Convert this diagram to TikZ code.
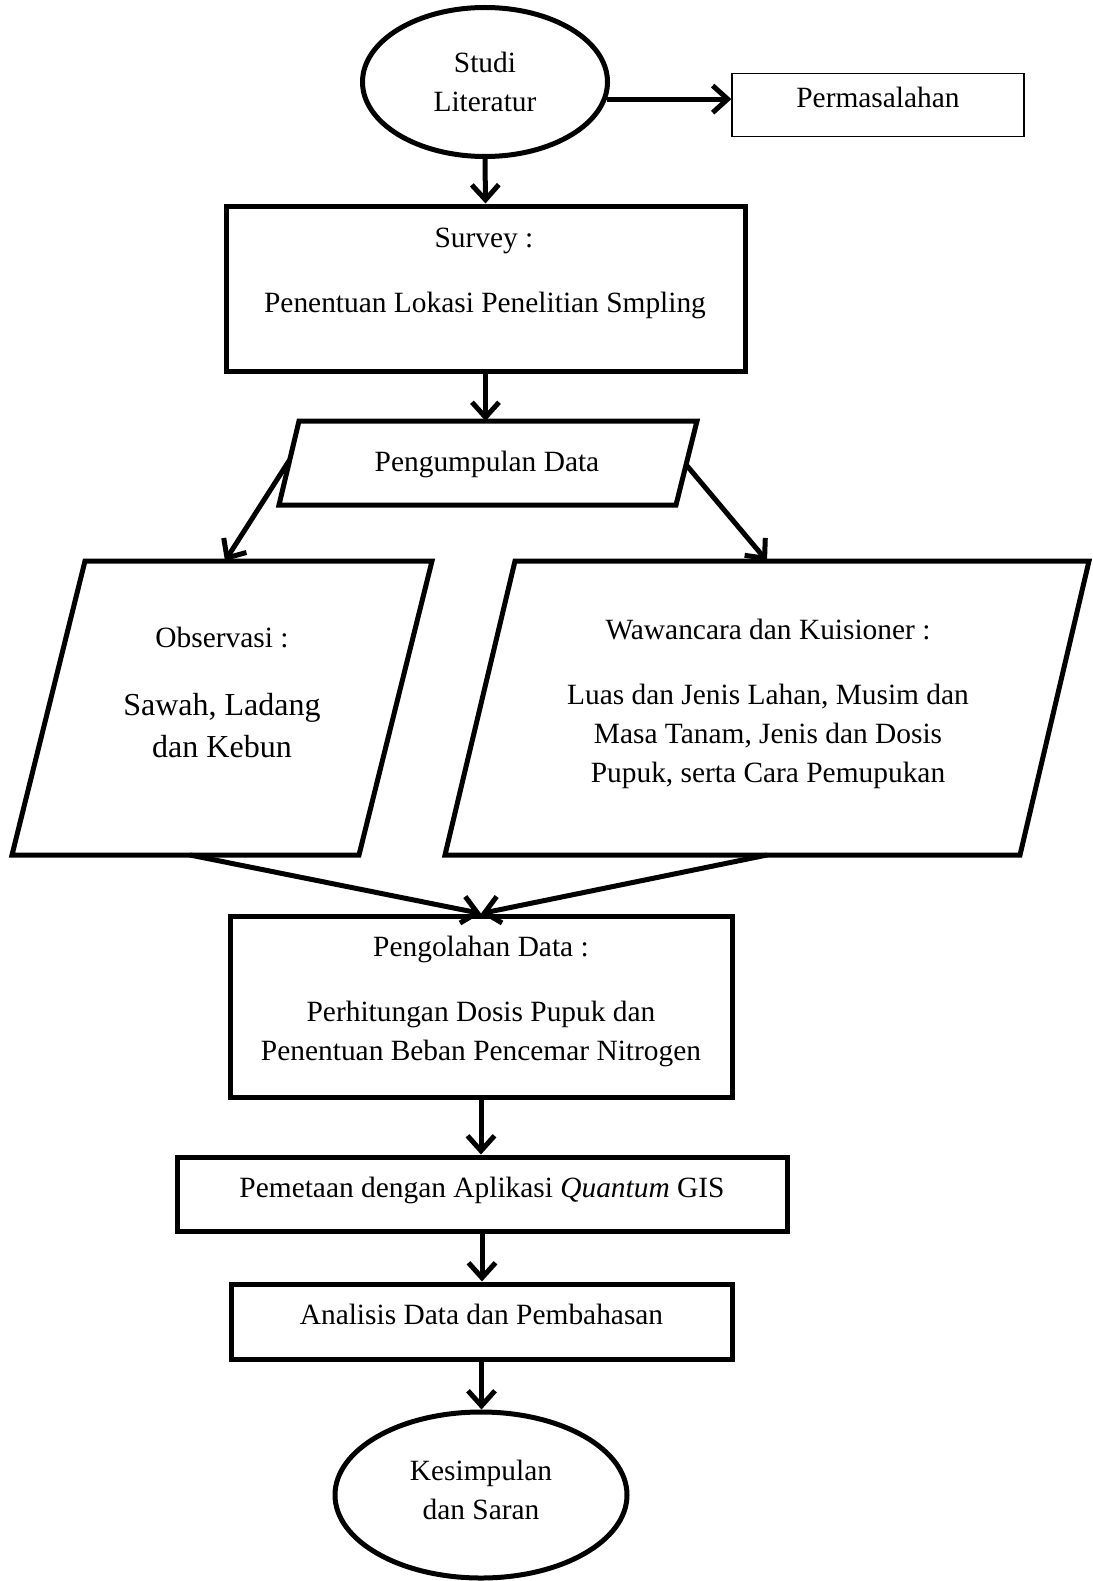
\documentclass[tikz,border=0pt]{standalone}
\usepackage{fontspec}
\setmainfont{Liberation Serif}
\usepackage{tikz}
\usetikzlibrary{arrows.meta,shapes.geometric,calc}

\tikzset{
  proc/.style={draw, line width=5pt, line join=miter},
  term/.style={draw, ellipse, line width=5pt, align=center},
  flow/.style={line width=5pt, -{Straight Barb[length=15pt,width=27pt]}},
  lift/.style={text height=20pt, text depth=14pt},
  txt/.style={align=center, inner sep=0pt},
  bigtxt/.style={txt, font=\fontsize{32}{42}\selectfont},
}

\begin{document}
\begin{tikzpicture}[x=1pt, y=-1pt,
    every node/.append style={font=\fontsize{29.4}{39}\selectfont}]
        \useasboundingbox (0,0) rectangle (1092,1581);

        % start and problem statement
        \node[term, minimum width=245pt, minimum height=149pt] (lit) at (485,82)
          {Studi\\Literatur};
        \node[draw, lift, line width=1.2pt, minimum width=292pt, minimum height=63pt]
          (perm) at (878,105) {Permasalahan};
        \draw[flow] (lit.-8) -- (lit.-8 -| perm.west);

        % survey
        \node[proc, minimum width=519pt, minimum height=165pt] (survey) at (485.5,288.5) {};
        \node[txt] (surveyhead) at (484,241) {Survey :};
        \node[txt] (surveybody) at (485,305) {Penentuan Lokasi Penelitian Smpling};
        \draw[flow] (lit.south) -- (survey.north);

        % data collection
        \coordinate (pd1) at (299,421);
        \coordinate (pd2) at (697,421);
        \coordinate (pd3) at (676,505);
        \coordinate (pd4) at (279,505);
        \draw[proc] (pd1) -- (pd2) -- (pd3) -- (pd4) -- cycle;
        \node[txt] (pdtext) at (487,464) {Pengumpulan Data};
        \draw[flow] (survey.south) -- (survey.south |- pd1);

        % observation
        \coordinate (ob1) at (85,561);
        \coordinate (ob2) at (432,561);
        \coordinate (ob3) at (359,855);
        \coordinate (ob4) at (12,855);
        \draw[proc] (ob1) -- (ob2) -- (ob3) -- (ob4) -- cycle;
        \node[txt] (obhead) at (222,638) {Observasi :};
        \node[bigtxt] (obbody) at (222,726) {Sawah, Ladang\\dan Kebun};

        % interview and questionnaire
        \coordinate (ww1) at (515,561);
        \coordinate (ww2) at (1089,561);
        \coordinate (ww3) at (1020,855);
        \coordinate (ww4) at (445,855);
        \draw[proc] (ww1) -- (ww2) -- (ww3) -- (ww4) -- cycle;
        \node[txt] (wwhead) at (768,630) {Wawancara dan Kuisioner :};
        \node[txt] (wwbody) at (768,736)
          {Luas dan Jenis Lahan, Musim dan\\Masa Tanam, Jenis dan Dosis\\Pupuk, serta Cara Pemupukan};

        \coordinate (pdl) at ($(pd1)!0.46!(pd4)$);
        \coordinate (pdr) at ($(pd2)!0.52!(pd3)$);
        \coordinate (obin) at (225,561);
        \coordinate (wwin) at (767,561);
        \draw[flow] (pdl) -- (obin);
        \draw[flow] (pdr) -- (wwin);

        % processing
        \node[proc, minimum width=502pt, minimum height=181pt] (olah) at (481,1006.5) {};
        \node[txt] (olahhead) at (481,949) {Pengolahan Data :};
        \node[txt] (olahbody) at (481,1033.5)
          {Perhitungan Dosis Pupuk dan\\Penentuan Beban Pencemar Nitrogen};
        \coordinate (obout) at (190,855);
        \coordinate (wwout) at (767,855);
        \draw[flow] (obout) -- (olah.north);
        \draw[flow] (wwout) -- (olah.north);

        % mapping, analysis, end
        \node[proc, lift, minimum width=610pt, minimum height=74pt] (peta) at (482,1194)
          {Pemetaan dengan Aplikasi \textit{Quantum} GIS};
        \node[proc, lift, minimum width=501pt, minimum height=75pt] (analisis) at (481.5,1321.5)
          {Analisis Data dan Pembahasan};
        \node[term, minimum width=292pt, minimum height=166pt] (simpul) at (481,1495) {};
        \node[txt] (simpultext) at (481,1490) {Kesimpulan\\dan Saran};
        \draw[flow] (olah.south) -- (olah.south |- peta.north);
        \draw[flow] (peta.south) -- (peta.south |- analisis.north);
        \draw[flow] (analisis.south) -- (analisis.south |- simpul.north);
\end{tikzpicture}
\end{document}
